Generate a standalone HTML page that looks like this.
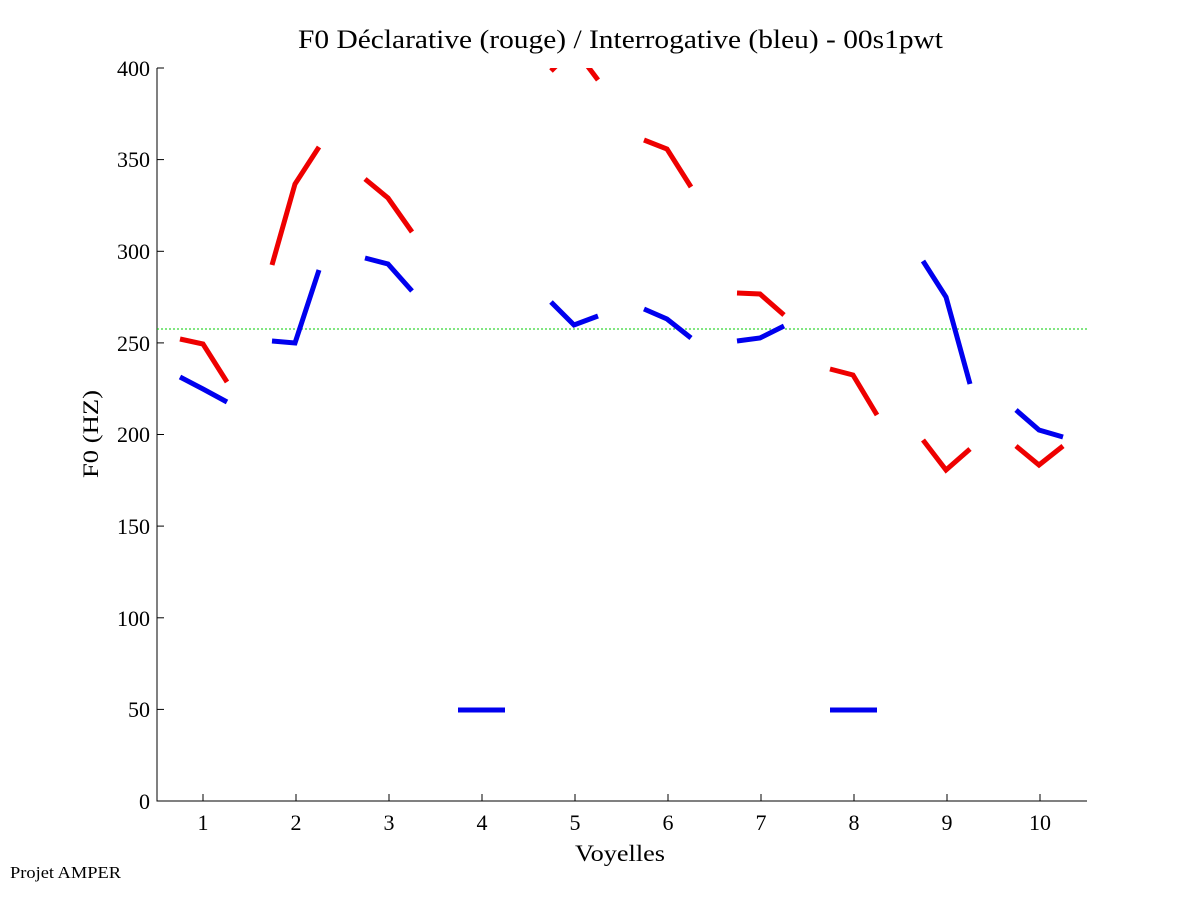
<!DOCTYPE html>
<html><head><meta charset="utf-8"><style>body{margin:0;background:#fff}svg{display:block}</style></head><body>
<svg width="1201" height="901" viewBox="0 0 1201 901" xmlns="http://www.w3.org/2000/svg" font-family="Liberation Serif, serif">
<rect width="1201" height="901" fill="#fff"/>
<defs><clipPath id="c"><rect x="157" y="68" width="930" height="733"/></clipPath></defs>
<text x="298" y="48" font-size="26" textLength="645" lengthAdjust="spacingAndGlyphs">F0 Déclarative (rouge) / Interrogative (bleu) - 00s1pwt</text>
<g stroke="#000" stroke-width="1" fill="none">
<polyline points="157,68 157,801 1087,801"/>
</g>
<g stroke="#000" stroke-width="1">
<line x1="157" y1="801" x2="164" y2="801"/><line x1="157" y1="709.4" x2="164" y2="709.4"/><line x1="157" y1="617.8" x2="164" y2="617.8"/><line x1="157" y1="526.1" x2="164" y2="526.1"/><line x1="157" y1="434.5" x2="164" y2="434.5"/><line x1="157" y1="342.9" x2="164" y2="342.9"/><line x1="157" y1="251.3" x2="164" y2="251.3"/><line x1="157" y1="159.6" x2="164" y2="159.6"/><line x1="157" y1="68" x2="164" y2="68"/>
<line x1="203" y1="801" x2="203" y2="794"/><line x1="296" y1="801" x2="296" y2="794"/><line x1="389" y1="801" x2="389" y2="794"/><line x1="482" y1="801" x2="482" y2="794"/><line x1="575" y1="801" x2="575" y2="794"/><line x1="668" y1="801" x2="668" y2="794"/><line x1="761" y1="801" x2="761" y2="794"/><line x1="854" y1="801" x2="854" y2="794"/><line x1="947" y1="801" x2="947" y2="794"/><line x1="1040" y1="801" x2="1040" y2="794"/>
</g>
<g font-size="22" text-anchor="end">
<text x="150" y="809">0</text><text x="150" y="717">50</text><text x="150" y="626">100</text><text x="150" y="534">150</text><text x="150" y="442">200</text><text x="150" y="351">250</text><text x="150" y="259">300</text><text x="150" y="167">350</text><text x="150" y="76">400</text>
</g>
<g font-size="22" text-anchor="middle">
<text x="203" y="830">1</text><text x="296" y="830">2</text><text x="389" y="830">3</text><text x="482" y="830">4</text><text x="575" y="830">5</text><text x="668" y="830">6</text><text x="761" y="830">7</text><text x="854" y="830">8</text><text x="947" y="830">9</text><text x="1040" y="830">10</text>
</g>
<text x="575" y="861" font-size="23" textLength="90" lengthAdjust="spacingAndGlyphs">Voyelles</text>
<text transform="translate(98,478) rotate(-90)" font-size="22" textLength="88" lengthAdjust="spacingAndGlyphs">F0 (HZ)</text>
<text x="10" y="878" font-size="17" textLength="111" lengthAdjust="spacingAndGlyphs">Projet AMPER</text>
<line x1="157" y1="329" x2="1087" y2="329" stroke="#00cc00" stroke-width="1" stroke-dasharray="2,2"/>
<g clip-path="url(#c)" fill="none" stroke-width="5">
<g stroke="#ee0000">
<polyline points="180,339 203,344 227,382"/>
<polyline points="272,265 295,184 319,147"/>
<polyline points="365,179 388,198 412,232"/>
<polyline points="551,71 574,48 598,80"/>
<polyline points="644,140 667,149 691,187"/>
<polyline points="737,293 760,294 784,315"/>
<polyline points="830,369 853,375 877,415"/>
<polyline points="923,440 946,470 970,449"/>
<polyline points="1016,446 1039,465 1063,446"/>
</g>
<g stroke="#0000ee">
<polyline points="180,377 203,389 227,402"/>
<polyline points="272,341 295,343 319,270"/>
<polyline points="365,258 388,264 412,291"/>
<polyline points="458,710 505,710"/>
<polyline points="551,302 574,325 598,316"/>
<polyline points="644,309 667,319 691,338"/>
<polyline points="737,341 760,338 784,326"/>
<polyline points="830,710 877,710"/>
<polyline points="923,261 946,297 970,384"/>
<polyline points="1016,410 1039,430 1063,437"/>
</g>
</g>
</svg>
</body></html>
